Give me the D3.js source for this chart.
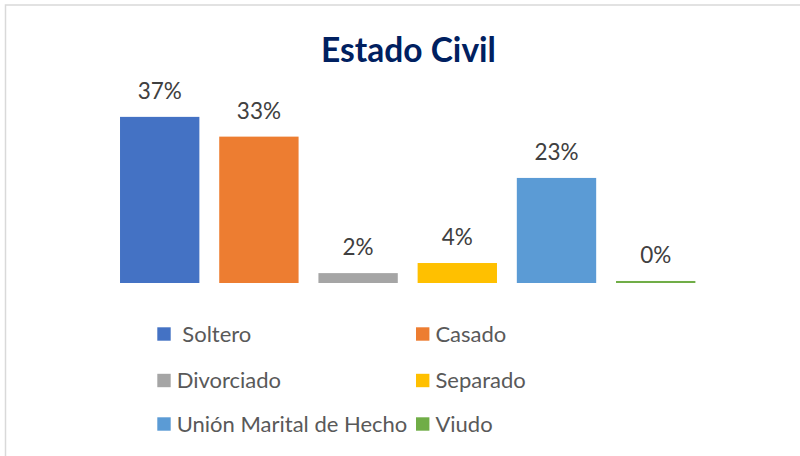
<!DOCTYPE html>
<html>
<head>
<meta charset="utf-8">
<script src="https://cdn.jsdelivr.net/npm/d3@7"></script>
<style>
  html, body { margin: 0; padding: 0; background: #fff; }
  svg { display: block; }
  text { white-space: pre; }
</style>
</head>
<body>
<svg id="chart" width="800" height="456"></svg>
<script>
// ---- data ----
const categories = [" Soltero", "Casado", "Divorciado", "Separado", "Unión Marital de Hecho", "Viudo"];
const values = [37, 32.6, 2.2, 4.45, 23.4, 0.45];
const valueLabels = ["37%", "33%", "2%", "4%", "23%", "0%"];
const colors = ["#4472C4", "#ED7D31", "#A5A5A5", "#FFC000", "#5B9BD5", "#70AD47"];
const title = "Estado Civil";

// ---- layout ----
const svg = d3.select("#chart");
const font = "Lato, 'Open Sans', sans-serif";

// chart border
svg.append("rect")
  .attr("x", 5.5).attr("y", 5)
  .attr("width", 820).attr("height", 480)
  .attr("fill", "#fff")
  .attr("stroke", "#D9D9D9").attr("stroke-width", 1.5);

// title
svg.append("text")
  .attr("x", 408.5).attr("y", 61.5)
  .attr("text-anchor", "middle")
  .attr("font-family", font).attr("font-weight", "bold")
  .attr("font-size", 33.5).attr("fill", "#002060")
  .text(title);

const x = d3.scaleBand()
  .domain(categories)
  .range([110.1, 705.3])
  .paddingInner(0.2).paddingOuter(0.1);

const y = d3.scaleLinear()
  .domain([0, 40])
  .range([283, 283 - 179.6]);

const data = categories.map((c, i) => ({ c, v: values[i], label: valueLabels[i], color: colors[i] }));

svg.append("g").selectAll("rect")
  .data(data).join("rect")
  .attr("x", d => x(d.c))
  .attr("y", d => y(d.v))
  .attr("width", x.bandwidth())
  .attr("height", d => y(0) - y(d.v))
  .attr("fill", d => d.color);

svg.append("g").selectAll("text")
  .data(data).join("text")
  .attr("x", d => x(d.c) + x.bandwidth() / 2)
  .attr("y", d => y(d.v) - 18)
  .attr("text-anchor", "middle")
  .attr("font-family", font).attr("font-size", 22.5)
  .attr("fill", "#404040")
  .text(d => d.label);

// legend (2 columns x 3 rows)
const legendCols = [157.3, 416];
const legendRows = [334, 380.5, 424];
const lg = svg.append("g").selectAll("g")
  .data(data).join("g")
  .attr("transform", (d, i) => `translate(${legendCols[i % 2]},${legendRows[Math.floor(i / 2)]})`);

lg.append("rect")
  .attr("x", 0).attr("y", -6.7)
  .attr("width", 13.4).attr("height", 13.4)
  .attr("fill", d => d.color);

lg.append("text")
  .attr("x", 19.4).attr("y", 7.8)
  .attr("font-family", font).attr("font-size", 22)
  .attr("fill", "#595959")
  .text(d => d.c);
</script>
</body>
</html>
